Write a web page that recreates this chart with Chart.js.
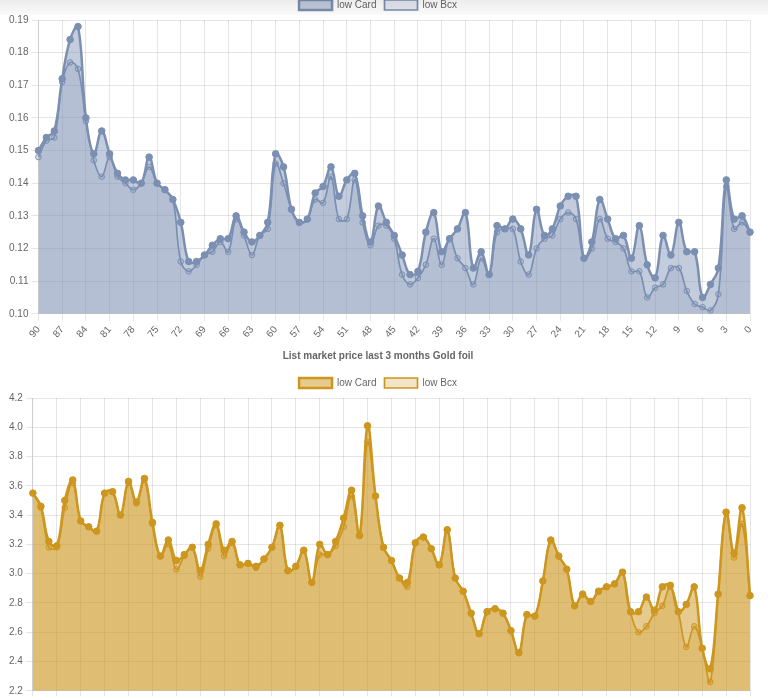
<!DOCTYPE html>
<html>
<head>
<meta charset="utf-8">
<script src="https://cdn.jsdelivr.net/npm/chart.js@4.4.0/dist/chart.umd.min.js"></script>
<style>
  html, body { margin: 0; padding: 0; background: #fff; overflow: hidden; }
  body { width: 768px; height: 696px; position: relative; }
  .box { position: absolute; left: 0; width: 768px; }
  #topBox { top: -8px; height: 351px; }
  #goldBox { top: 342px; height: 378px; }
  #shade { position: absolute; left: 0; top: 0; width: 768px; height: 15px;
    background: linear-gradient(rgba(0,0,0,0.07), rgba(0,0,0,0.02)); pointer-events: none; }
</style>
</head>
<body>
<div class="box" id="topBox"><canvas id="chartRegular"></canvas></div>
<div class="box" id="goldBox"><canvas id="chartGold"></canvas></div>
<div id="shade"></div>
<script>
// days ago, 90 -> 0
const days = [];
for (let d = 90; d >= 0; d--) days.push(d);

const regularCard = [0.150, 0.154, 0.156, 0.172, 0.184, 0.188, 0.160, 0.149, 0.156, 0.149,
  0.143, 0.141, 0.141, 0.140, 0.148, 0.140, 0.138, 0.135, 0.128, 0.116,
  0.116, 0.118, 0.121, 0.123, 0.123, 0.130, 0.125, 0.122, 0.124, 0.128,
  0.149, 0.145, 0.132, 0.128, 0.129, 0.137, 0.139, 0.145, 0.136, 0.141,
  0.143, 0.130, 0.122, 0.133, 0.128, 0.124, 0.118, 0.112, 0.113, 0.125,
  0.131, 0.119, 0.123, 0.126, 0.131, 0.114, 0.119, 0.112, 0.127, 0.126,
  0.129, 0.126, 0.118, 0.132, 0.124, 0.126, 0.133, 0.136, 0.136, 0.117,
  0.122, 0.135, 0.129, 0.123, 0.124, 0.117, 0.127, 0.115, 0.111, 0.124,
  0.118, 0.128, 0.119, 0.119, 0.105, 0.109, 0.114, 0.141, 0.129, 0.130, 0.125];
const regularBcx = [0.148, 0.153, 0.154, 0.171, 0.177, 0.175, 0.159, 0.147, 0.142, 0.148,
  0.142, 0.140, 0.138, 0.140, 0.145, 0.140, 0.138, 0.135, 0.116, 0.113,
  0.115, 0.118, 0.119, 0.122, 0.119, 0.129, 0.124, 0.118, 0.124, 0.126,
  0.146, 0.140, 0.132, 0.128, 0.129, 0.135, 0.134, 0.142, 0.129, 0.129,
  0.141, 0.128, 0.121, 0.127, 0.127, 0.123, 0.112, 0.109, 0.111, 0.115,
  0.123, 0.115, 0.123, 0.117, 0.114, 0.109, 0.117, 0.112, 0.125, 0.126,
  0.126, 0.116, 0.112, 0.120, 0.123, 0.124, 0.129, 0.131, 0.129, 0.117,
  0.120, 0.129, 0.123, 0.122, 0.120, 0.113, 0.113, 0.105, 0.108, 0.109,
  0.114, 0.114, 0.107, 0.103, 0.102, 0.101, 0.106, 0.139, 0.126, 0.128, 0.125];

const goldCard = [3.55, 3.46, 3.22, 3.19, 3.50, 3.64, 3.36, 3.32, 3.29, 3.55,
  3.56, 3.40, 3.63, 3.49, 3.65, 3.35, 3.12, 3.23, 3.09, 3.13,
  3.18, 3.02, 3.20, 3.34, 3.16, 3.22, 3.06, 3.07, 3.05, 3.10,
  3.18, 3.33, 3.02, 3.05, 3.16, 2.94, 3.20, 3.13, 3.22, 3.38,
  3.57, 3.26, 4.01, 3.53, 3.18, 3.09, 2.97, 2.94, 3.21, 3.25,
  3.17, 3.06, 3.30, 2.97, 2.88, 2.73, 2.59, 2.74, 2.76, 2.73,
  2.61, 2.46, 2.72, 2.71, 2.95, 3.23, 3.12, 3.03, 2.78, 2.86,
  2.81, 2.88, 2.91, 2.93, 3.01, 2.74, 2.74, 2.84, 2.75, 2.91,
  2.92, 2.74, 2.79, 2.91, 2.49, 2.35, 2.86, 3.42, 3.14, 3.45, 2.85];
const goldBcx = [3.55, 3.45, 3.18, 3.18, 3.45, 3.62, 3.36, 3.32, 3.29, 3.55,
  3.56, 3.40, 3.62, 3.48, 3.64, 3.34, 3.12, 3.20, 3.03, 3.12,
  3.18, 2.98, 3.17, 3.33, 3.12, 3.21, 3.06, 3.07, 3.04, 3.10,
  3.18, 3.33, 3.02, 3.05, 3.16, 2.94, 3.13, 3.13, 3.19, 3.32,
  3.53, 3.26, 3.90, 3.53, 3.18, 3.09, 2.97, 2.91, 3.21, 3.25,
  3.17, 3.06, 3.30, 2.97, 2.88, 2.73, 2.59, 2.74, 2.76, 2.73,
  2.61, 2.46, 2.72, 2.71, 2.95, 3.23, 3.12, 3.03, 2.78, 2.86,
  2.81, 2.88, 2.91, 2.93, 3.01, 2.74, 2.60, 2.64, 2.73, 2.78,
  2.91, 2.74, 2.50, 2.64, 2.49, 2.26, 2.86, 3.42, 3.11, 3.34, 2.85];

Chart.defaults.font.family = "'Helvetica Neue', Helvetica, Arial, 'Liberation Sans', sans-serif";
Chart.defaults.font.size = 10;
Chart.defaults.color = '#666';

const gridColor = 'rgba(0,0,0,0.1)';

function buildChart(id, card, bcx, rgb, cardAlpha, bcxAlpha, yMin, yMax, yStep, decimals, title) {
    const line = `rgb(${rgb})`;
    return new Chart(document.getElementById(id), {
        type: 'line',
        data: {
            labels: days,
            datasets: [{
                label: 'low Card',
                data: card,
                borderColor: line,
                backgroundColor: `rgba(${rgb},${cardAlpha})`,
                borderWidth: 2.5,
                pointRadius: 3.3,
                pointBackgroundColor: line,
                pointBorderColor: line,
                pointBorderWidth: 1,
                tension: 0.4,
                fill: 'origin'
            }, {
                label: 'low Bcx',
                data: bcx,
                borderColor: line,
                backgroundColor: `rgba(${rgb},${bcxAlpha})`,
                borderWidth: 1.7,
                pointRadius: 2.8,
                pointBackgroundColor: `rgba(${rgb},${bcxAlpha})`,
                pointBorderColor: line,
                pointBorderWidth: 1,
                tension: 0.4,
                fill: 'origin'
            }]
        },
        options: {
            responsive: true, maintainAspectRatio: false, animation: false,
            layout: { padding: { right: 18, left: 6 } },
            plugins: {
                title: { display: !!title, text: title, font: { weight: 'bold', size: 10 }, padding: { top: 8, bottom: 8 } },
                legend: { labels: { boxWidth: 33, boxHeight: 10, padding: 8 } },
                tooltip: { enabled: false }
            },
            scales: {
                x: {
                    grid: { color: gridColor, tickLength: 7 },
                    ticks: {
                        autoSkip: false, minRotation: 50, maxRotation: 50,
                        callback: (v, i) => (i % 3 === 0 ? days[i] : null)
                    }
                },
                y: {
                    min: yMin, max: yMax,
                    grid: { color: gridColor, tickLength: 7 },
                    ticks: { stepSize: yStep, callback: v => v.toFixed(decimals) }
                }
            }
        }
    });
}

buildChart('chartRegular', regularCard, regularBcx, '123,143,178', 0.45, 0.2, 0.10, 0.19, 0.01, 2, '');
buildChart('chartGold', goldCard, goldBcx, '205,150,30', 0.5, 0.25, 2.2, 4.2, 0.2, 1, 'List market price last 3 months Gold foil');
</script>
</body>
</html>
